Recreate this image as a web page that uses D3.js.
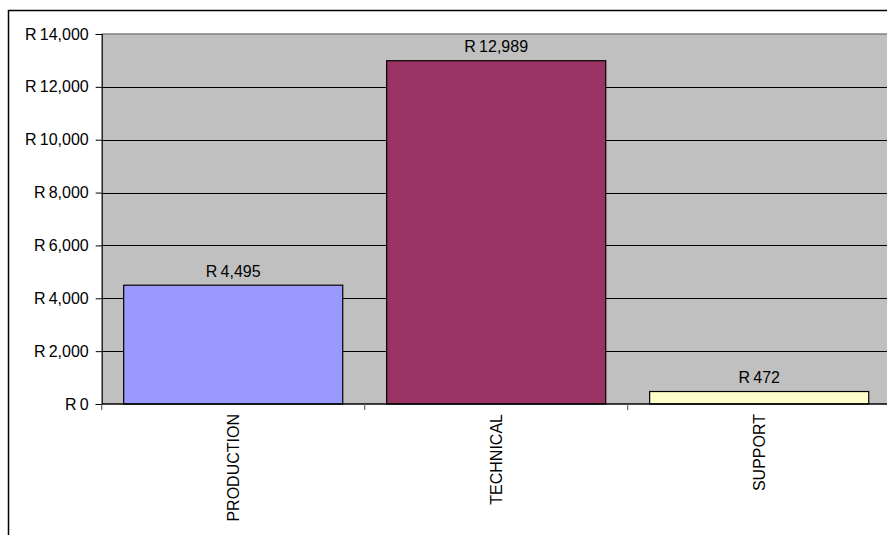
<!DOCTYPE html>
<html>
<head>
<meta charset="utf-8">
<script src="https://cdn.jsdelivr.net/npm/d3@7"></script>
<style>
  html, body { margin: 0; padding: 0; background: #fff; }
  svg { display: block; font-family: "Liberation Sans", Arial, sans-serif; }
</style>
</head>
<body>
<svg id="chart" width="887" height="535"></svg>
<script>
// Headcount cost per department
const categories = ["PRODUCTION", "TECHNICAL", "SUPPORT"];
const values = [4495, 12989, 472];
const barColors = ["#9999FF", "#993366", "#FFFFCC"];
const yTicks = [0, 2000, 4000, 6000, 8000, 10000, 12000, 14000];

const svg = d3.select("#chart");
const W = 887, H = 535;
const plot = { left: 101.7, right: 890.7, top: 34, bottom: 404 };

const money = d => "R\u2009" + d3.format(",")(d);

// outer chart frame (runs off the right and bottom)
svg.append("rect")
  .attr("x", 8.5).attr("y", 10.5)
  .attr("width", W + 20).attr("height", H + 20)
  .attr("fill", "#fff").attr("stroke", "#000").attr("stroke-width", 1.5);

const x = d3.scaleBand()
  .domain(categories)
  .range([plot.left, plot.right])
  .paddingInner(0.167)
  .paddingOuter(0.0835);

const y = d3.scaleLinear()
  .domain([0, 14000])
  .range([plot.bottom, plot.top]);

// plot area
svg.append("rect")
  .attr("x", plot.left).attr("y", plot.top)
  .attr("width", plot.right - plot.left).attr("height", plot.bottom - plot.top)
  .attr("fill", "#C0C0C0");

// gridlines
svg.append("g")
  .selectAll("line")
  .data(yTicks.filter(d => d > 0 && d < 14000))
  .join("line")
  .attr("x1", plot.left).attr("x2", plot.right)
  .attr("y1", d => Math.round(y(d)) + 0.5).attr("y2", d => Math.round(y(d)) + 0.5)
  .attr("stroke", "#000").attr("stroke-width", 1);

// plot area top border
svg.append("line")
  .attr("x1", plot.left).attr("x2", plot.right)
  .attr("y1", plot.top).attr("y2", plot.top)
  .attr("stroke", "#808080").attr("stroke-width", 1.5);

// bars
svg.append("g")
  .selectAll("rect")
  .data(values)
  .join("rect")
  .attr("x", (d, i) => x(categories[i]))
  .attr("y", d => y(d))
  .attr("width", x.bandwidth())
  .attr("height", d => y(0) - y(d))
  .attr("fill", (d, i) => barColors[i])
  .attr("stroke", "#000").attr("stroke-width", 1.2);

// value labels
svg.append("g")
  .selectAll("text")
  .data(values)
  .join("text")
  .attr("x", (d, i) => x(categories[i]) + x.bandwidth() / 2)
  .attr("y", d => y(d) - 8.5)
  .attr("text-anchor", "middle")
  .attr("font-size", 16)
  .attr("fill", "#000")
  .text(d => money(d));

// y axis
const yAxis = d3.axisLeft(y)
  .tickValues(yTicks)
  .tickSize(6)
  .tickPadding(7)
  .tickFormat(money);

const gy = svg.append("g")
  .attr("transform", `translate(${plot.left},0)`)
  .call(yAxis);
gy.select(".domain").attr("stroke", "#000").attr("stroke-width", 1.2);
gy.selectAll(".tick line").attr("stroke", "#000");
gy.selectAll(".tick text")
  .attr("font-size", 16)
  .attr("font-family", "Liberation Sans, Arial, sans-serif")
  .attr("fill", "#000");

// x axis with ticks at category boundaries
const gx = svg.append("g")
  .attr("transform", `translate(0,${plot.bottom})`);
gx.append("line")
  .attr("x1", plot.left).attr("x2", plot.right)
  .attr("stroke", "#000").attr("stroke-width", 1.5);
const boundaries = categories.map(c => x(c) - x.step() * x.paddingInner() / 2)
  .concat([x(categories[categories.length - 1]) + x.bandwidth() + x.step() * x.paddingInner() / 2]);
gx.selectAll("line.tick")
  .data(boundaries)
  .join("line")
  .attr("class", "tick")
  .attr("x1", d => d).attr("x2", d => d)
  .attr("y1", 0).attr("y2", 6)
  .attr("stroke", "#666").attr("stroke-width", 1.2);

gx.selectAll("text")
  .data(categories)
  .join("text")
  .attr("transform", d => `translate(${x(d) + x.bandwidth() / 2 + 5.5},10) rotate(-90)`)
  .attr("text-anchor", "end")
  .attr("font-size", 16)
  .attr("fill", "#000")
  .text(d => d);
</script>
</body>
</html>
